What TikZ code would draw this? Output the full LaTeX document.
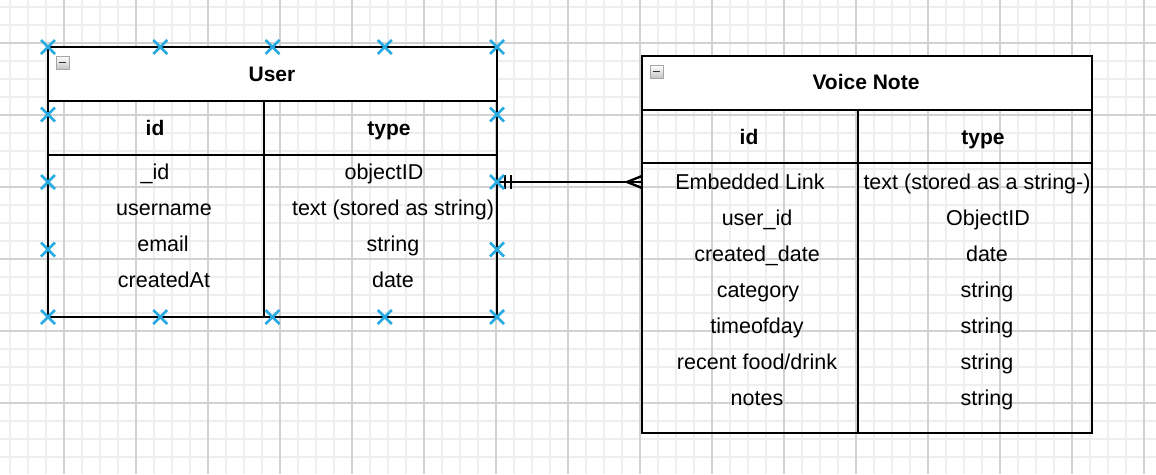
\documentclass[tikz,border=0pt]{standalone}
\usepackage{fontspec}
\setmainfont{Liberation Sans}
\definecolor{mkblue}{RGB}{41,171,226}
\definecolor{gminor}{RGB}{238,238,238}
\definecolor{gmajor}{RGB}{210,210,210}
\begin{document}
\begin{tikzpicture}[x=1pt,y=-1pt,
  minorln/.style={draw=gminor, line width=1.6pt},
  majorln/.style={draw=gmajor, line width=1.2pt},
  tbl/.style={draw=black, line width=2.8pt, inner sep=0pt, outer sep=0pt, anchor=north west},
  sepln/.style={draw=black, line width=2.8pt},
  txt/.style={font=\fontsize{21.5}{25}\selectfont, anchor=base, inner sep=0pt},
  hdr/.style={font=\fontsize{21}{25}\selectfont\bfseries, anchor=base, inner sep=0pt},
  btn/.style={draw=gray!70, line width=0.8pt, top color=white, bottom color=gray!45, minimum width=13pt, minimum height=13pt, inner sep=0pt, outer sep=0pt, anchor=north west},
  mk/.style={draw=mkblue, line width=2.8pt},
  conn/.style={draw=black, line width=2.4pt},
  bx/.pic={\draw[mk] (-7,-7)--(7,7) (-7,7)--(7,-7);}]
\useasboundingbox (0,0) rectangle (1156,474);
\fill[white] (0,0) rectangle (1156,474);
% grid
\foreach \x in {10,28,...,1156} \draw[minorln] (\x,0)--(\x,474);
\foreach \y in {7,25,...,474} \draw[minorln] (0,\y)--(1156,\y);
\foreach \x in {64,136,...,1150} \draw[majorln] (\x,0)--(\x,474);
\foreach \y in {43,115,...,474} \draw[majorln] (0,\y)--(1156,\y);

% ---------- User table ----------
\node[tbl, fill=white, draw=none, minimum width=449pt, minimum height=54pt] (usertitle) at (48,47) {};
\node[tbl, minimum width=449pt, minimum height=270pt] (user) at (48,47) {};
\draw[sepln] (usertitle.south west) -- (usertitle.south east);
\draw[sepln] (48,155) -- (497,155);
\draw[sepln] (264,101) -- (264,317);
\node[btn] (userbtn) at (56,56) {};
\draw[black!80, line width=1.5pt] ([xshift=3pt]userbtn.west) -- ([xshift=-3pt]userbtn.east);
\node[hdr] (uname) at (272,81.5) {User};
\node[hdr] (uidh) at (155,135) {id};
\node[hdr] (utyh) at (389,135) {type};
\node[txt] (u1a) at (155,179) {\_id};
\node[txt] (u1b) at (384,179) {objectID};
\node[txt] (u2a) at (164,215) {username};
\node[txt] (u2b) at (393,215) {text (stored as string)};
\node[txt] (u3a) at (163,251) {email};
\node[txt] (u3b) at (393,251) {string};
\node[txt] (u4a) at (164,287) {createdAt};
\node[txt] (u4b) at (393,287) {date};

% ---------- Voice Note table ----------
\node[tbl, fill=white, draw=none, minimum width=450pt, minimum height=54pt] (vtitle) at (642,56) {};
\node[tbl, minimum width=450pt, minimum height=377pt] (voice) at (642,56) {};
\draw[sepln] (vtitle.south west) -- (vtitle.south east);
\draw[sepln] (642,163) -- (1092,163);
\draw[sepln] (858,110) -- (858,433);
\node[btn] (vbtn) at (650,65) {};
\draw[black!80, line width=1.5pt] ([xshift=3pt]vbtn.west) -- ([xshift=-3pt]vbtn.east);
\node[hdr] (vname) at (866,89.5) {Voice Note};
\node[hdr] (vidh) at (749,144) {id};
\node[hdr] (vtyh) at (983,144) {type};
\node[txt] (v1a) at (750,189) {Embedded Link};
\node[txt] (v1b) at (977,189) {text (stored as a string-)};
\node[txt] (v2a) at (757,225) {user\_id};
\node[txt] (v2b) at (988,225) {ObjectID};
\node[txt] (v3a) at (757,261) {created\_date};
\node[txt] (v3b) at (987,261) {date};
\node[txt] (v4a) at (758,297) {category};
\node[txt] (v4b) at (987,297) {string};
\node[txt] (v5a) at (757,333) {timeofday};
\node[txt] (v5b) at (987,333) {string};
\node[txt] (v6a) at (757,369) {recent food/drink};
\node[txt] (v6b) at (987,369) {string};
\node[txt] (v7a) at (757,405) {notes};
\node[txt] (v7b) at (987,405) {string};

% ---------- connector ----------
\coordinate (ua) at (user.east |- 0,182);
\coordinate (vb) at (voice.west |- 0,182);
\draw[conn] (ua) -- (vb);
\draw[conn] (ua) ++(8,-7) -- ++(0,14);
\draw[conn] (ua) ++(14,-7) -- ++(0,14);
\draw[conn] (vb) ++(-15,0) -- ++(15,-6);
\draw[conn] (vb) ++(-15,0) -- ++(15,6);

% ---------- selection markers ----------
\foreach \x in {48,160.25,272.5,384.75,497} {
  \pic at (\x,47) {bx};
  \pic at (\x,317) {bx};
}
\foreach \y in {114.5,182,249.5} {
  \pic at (48,\y) {bx};
  \pic at (497,\y) {bx};
}
\end{tikzpicture}
\end{document}
